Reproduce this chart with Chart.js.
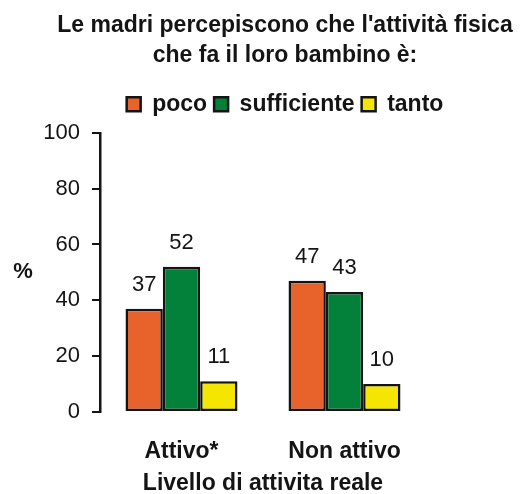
<!DOCTYPE html>
<html>
<head>
<meta charset="utf-8">
<script src="https://cdn.jsdelivr.net/npm/chart.js@4"></script>
<style>
  html, body { margin: 0; padding: 0; background: #fff; }
</style>
</head>
<body>
<canvas id="chart" width="520" height="494"></canvas>
<script>
const categories = ["Attivo*", "Non attivo"];
const seriesNames = ["poco", "sufficiente", "tanto"];
const poco = [37, 47];
const sufficiente = [52, 43];
const tanto = [11, 10];
const yMin = 0;
const yMax = 100;
const yStep = 20;
const titleLines = ["Le madri percepiscono che l'attività fisica", "che fa il loro bambino è:"];
const xTitle = "Livello di attivita reale";
const yTitle = "%";

const colors = ["#e8622b", "#03803a", "#f4e600"];
const ink = "#141414";
Chart.defaults.font.family = "'Liberation Sans', Arial, sans-serif";
Chart.defaults.color = ink;

// numbers above the bars
const valueLabels = {
  id: "valueLabels",
  afterDatasetsDraw(chart) {
    const ctx = chart.ctx;
    ctx.save();
    ctx.font = "22px 'Liberation Sans', Arial, sans-serif";
    ctx.fillStyle = ink;
    ctx.textAlign = "center";
    ctx.textBaseline = "alphabetic";
    chart.data.datasets.forEach((ds, i) => {
      chart.getDatasetMeta(i).data.forEach((bar, j) => {
        ctx.fillText(ds.data[j], bar.x, bar.y - 18);
      });
    });
    ctx.restore();
  }
};

// horizontal "%" beside the y axis
const yLabel = {
  id: "yLabel",
  afterDraw(chart) {
    const ctx = chart.ctx;
    const a = chart.chartArea;
    ctx.save();
    ctx.font = "bold 22px 'Liberation Sans', Arial, sans-serif";
    ctx.fillStyle = ink;
    ctx.textAlign = "center";
    ctx.textBaseline = "middle";
    ctx.fillText(yTitle, 23, (a.top + a.bottom) / 2);
    ctx.restore();
  }
};

// a bit more room under the legend
const legendGap = {
  id: "legendGap",
  beforeLayout(chart) {
    const lg = chart.legend;
    if (!lg || lg._gapPatched) return;
    const fit = lg.fit;
    lg.fit = function () {
      fit.call(this);
      this.height += 7;
    };
    lg._gapPatched = true;
  }
};

const seriesData = [poco, sufficiente, tanto];

new Chart(document.getElementById("chart"), {
  type: "bar",
  data: {
    labels: categories,
    datasets: seriesNames.map((name, i) => ({
      label: name,
      data: seriesData[i],
      backgroundColor: colors[i],
      borderColor: ink,
      borderWidth: 2.5,
      borderSkipped: false,
      yAxisID: "y",
      categoryPercentage: 0.687,
      barPercentage: 1.0
    }))
  },
  options: {
    responsive: false,
    animation: false,
    layout: { padding: { left: 40, right: -10, top: 0, bottom: 0 } },
    plugins: {
      title: {
        display: true,
        text: titleLines,
        font: { size: 23, weight: "bold", lineHeight: 1.3 },
        color: ink,
        padding: { top: 11, bottom: 15 }
      },
      legend: {
        display: true,
        labels: {
          boxWidth: 14,
          boxHeight: 14,
          padding: 7,
          color: ink,
          font: { size: 23, weight: "bold" }
        }
      },
      tooltip: { enabled: false }
    },
    scales: {
      x: {
        type: "category",
        grid: { display: false, drawTicks: false },
        border: { display: false },
        ticks: { font: { size: 23, weight: "bold" }, color: ink, padding: 26 },
        title: {
          display: true,
          text: xTitle,
          font: { size: 23, weight: "bold" },
          color: ink,
          padding: { top: 4, bottom: -3 }
        },
        afterFit: (s) => { s.height = 82; }
      },
      y: {
        type: "linear",
        position: "left",
        min: yMin,
        max: yMax,
        grid: {
          display: true,
          drawOnChartArea: false,
          drawTicks: true,
          tickLength: 8,
          color: ink,
          lineWidth: 2
        },
        border: { display: true, color: ink, width: 2.5 },
        ticks: { stepSize: yStep, padding: 12, color: ink, font: { size: 22 } },
        afterFit: (s) => { s.width = 60; }
      },
      yRight: {
        type: "linear",
        position: "right",
        display: true,
        grid: { display: false, drawTicks: false },
        border: { display: false },
        ticks: { display: false },
        afterFit: (s) => { s.width = 104; }
      }
    }
  },
  plugins: [valueLabels, yLabel, legendGap]
});
</script>
</body>
</html>
